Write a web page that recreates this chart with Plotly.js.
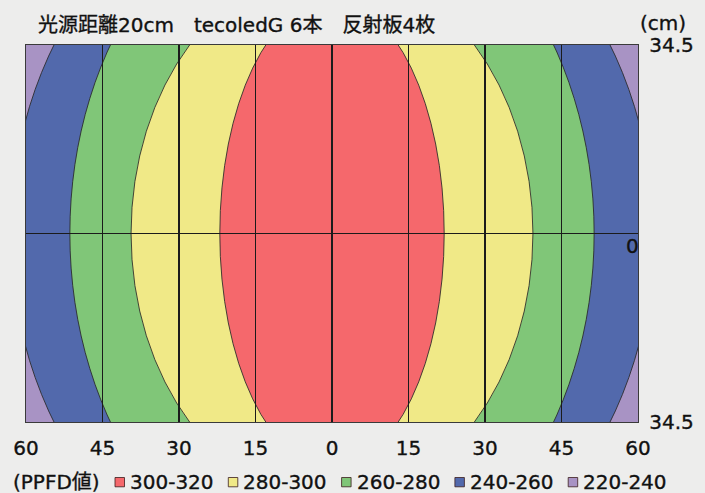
<!DOCTYPE html>
<html>
<head>
<meta charset="utf-8">
<script src="https://cdn.plot.ly/plotly-3.0.1.min.js"></script>
<style>
html,body{margin:0;padding:0;background:#ededec;}
#chart{width:705px;height:493px;}
#chart svg text{stroke:#111111;stroke-width:0.35px;}
</style>
</head>
<body>
<div id="chart"></div>
<script>
// ---- data (cm) ----
var bandLabels = ['240-260', '260-280', '280-300', '300-320'];   // drawn outer -> inner
var bandColors = ['#5269AC', '#80C678', '#F0E987', '#F5686C'];
var bandSemiX  = [63.0, 51.4, 39.4, 22.0];   // half-width at y = 0
var bandSemiY  = [68.9, 64.6, 48.9, 42.8];   // half-height at x = 0
var outerLabel = '220-240';
var outerColor = '#A893C4';

var legendLabels = ['300-320', '280-300', '260-280', '240-260', '220-240'];
var legendColors = ['#F5686C', '#F0E987', '#80C678', '#5269AC', '#A893C4'];

var xTickVals = [-60, -45, -30, -15, 0, 15, 30, 45, 60];
var xTickText = ['60', '45', '30', '15', '0', '15', '30', '45', '60'];
var yTickVals = [-34.5, 34.5];
var yTickText = ['34.5', '34.5'];
var xRange = [-60, 60];
var yRange = [-34.5, 34.5];

var titleText = '光源距離20cm　tecoledG 6本　反射板4枚';
var unitText = '(cm)';
var legendTitle = '(PPFD値)';

// ---- layout helpers ----
var W = 705, H = 493;
var M = {l: 26, r: 67, t: 45, b: 71};
var PW = W - M.l - M.r, PH = H - M.t - M.b;
function px(x) { return (x - M.l) / PW; }
function py(y) { return (H - M.b - y) / PH; }
var FONT = 'DejaVu Sans, Noto Sans CJK JP, sans-serif';
var TXT = '#111111';
var FS = 20;

var shapes = [];
for (var i = 0; i < bandLabels.length; i++) {
  shapes.push({
    type: 'circle', xref: 'x', yref: 'y', layer: 'below',
    x0: -bandSemiX[i], x1: bandSemiX[i], y0: -bandSemiY[i], y1: bandSemiY[i],
    fillcolor: bandColors[i],
    line: {color: 'rgba(40,40,40,0.85)', width: 1}
  });
}

var annotations = [
  {text: titleText, xref: 'paper', yref: 'paper', x: px(36), y: py(25),
   xanchor: 'left', yanchor: 'middle', showarrow: false, font: {family: FONT, size: FS, color: TXT}},
  {text: unitText, xref: 'paper', yref: 'paper', x: px(638), y: py(23),
   xanchor: 'left', yanchor: 'middle', showarrow: false, font: {family: FONT, size: FS, color: TXT}},
  {text: '0', xref: 'paper', yref: 'y', x: 1, y: 0, yshift: -12, xshift: 3,
   xanchor: 'right', yanchor: 'middle', showarrow: false, font: {family: FONT, size: FS, color: TXT}},
  {text: legendTitle, xref: 'paper', yref: 'paper', x: px(11), y: py(482),
   xanchor: 'left', yanchor: 'middle', showarrow: false, font: {family: FONT, size: FS, color: TXT}}
];

var legX0 = 115, legStep = 113.3;
for (var j = 0; j < legendLabels.length; j++) {
  var sx = legX0 + j * legStep;
  shapes.push({
    type: 'rect', xref: 'paper', yref: 'paper', layer: 'above',
    x0: px(sx), x1: px(sx + 9.5), y0: py(486.8), y1: py(477.5),
    fillcolor: legendColors[j], line: {color: 'rgba(60,30,30,0.8)', width: 1}
  });
  annotations.push({
    text: legendLabels[j], xref: 'paper', yref: 'paper', x: px(sx + 13), y: py(482),
    xanchor: 'left', yanchor: 'middle', showarrow: false, font: {family: FONT, size: FS, color: TXT}
  });
}

// invisible trace so the axes are built by the library
var data = [{
  type: 'scatter', x: xRange, y: yRange, mode: 'markers',
  marker: {opacity: 0}, hoverinfo: 'skip', showlegend: false
}];

var layout = {
  width: W, height: H,
  margin: M,
  paper_bgcolor: 'rgba(0,0,0,0)',
  plot_bgcolor: outerColor,
  showlegend: false,
  font: {family: FONT, color: TXT},
  xaxis: {
    range: xRange, tickvals: xTickVals, ticktext: xTickText,
    ticks: '', ticklabelstandoff: 8,
    showgrid: true, gridcolor: '#1b1b1b', gridwidth: 1.2,
    zeroline: true, zerolinecolor: '#1b1b1b', zerolinewidth: 1.2,
    showline: true, mirror: true, linecolor: '#3a3a3a', linewidth: 1.3,
    tickfont: {family: FONT, size: FS, color: TXT}, fixedrange: true
  },
  yaxis: {
    range: yRange, tickvals: yTickVals, ticktext: yTickText, side: 'right',
    ticks: '', ticklabelstandoff: 6, showgrid: false,
    zeroline: true, zerolinecolor: '#1b1b1b', zerolinewidth: 1.2,
    showline: true, mirror: true, linecolor: '#3a3a3a', linewidth: 1.3,
    tickfont: {family: FONT, size: FS, color: TXT}, fixedrange: true
  },
  shapes: shapes,
  annotations: annotations
};

Plotly.newPlot('chart', data, layout, {displayModeBar: false, staticPlot: true});
</script>
</body>
</html>
